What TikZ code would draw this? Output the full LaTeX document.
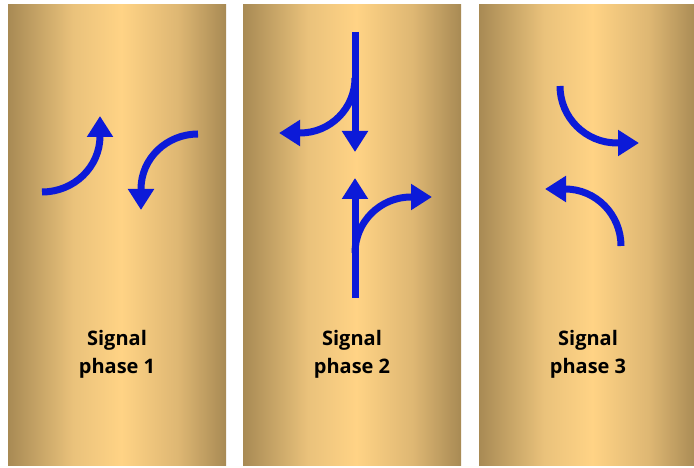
\documentclass[tikz,border=0pt]{standalone}
\usepackage{fontspec}
\usepackage{xcolor}
\usepackage{tikz}
\usetikzlibrary{arrows.meta,positioning}
\newfontfamily\phasefont{Open Sans}

\definecolor{goldedge}{RGB}{168,138,84}
\definecolor{goldmidleft}{RGB}{234,194,123}
\definecolor{goldlight}{RGB}{255,211,133}
\definecolor{goldmidright}{RGB}{222,183,115}
\definecolor{signalblue}{RGB}{12,26,216}

\pgfdeclarehorizontalshading{goldbar}{100bp}{color(0bp)=(goldedge); color(25bp)=(goldedge); color(40bp)=(goldmidleft); color(51bp)=(goldlight); color(64bp)=(goldmidright); color(75bp)=(goldedge); color(100bp)=(goldedge)}

\begin{document}
\begin{tikzpicture}[x=1pt, y=1pt,
  panel/.style={shading=goldbar, draw=none},
  turn/.style={draw=signalblue, line width=7pt, -{Triangle[length=21pt,width=25pt]}},
  phase/.style={font=\phasefont\bfseries\fontsize{20}{28}\selectfont, align=center, text=black}]
\useasboundingbox (0,0) rectangle (694,468);
\clip (0,0) rectangle (694,468);

% Panels
\shade[panel] (8,2) rectangle (226,463);
\shade[panel] (243,2) rectangle (461,463);
\shade[panel] (479,2) rectangle (697,463);

% Phase 1
\draw[turn] (42,276) arc[start angle=-90, end angle=0, x radius=58, y radius=56] -- (100,352);
\draw[turn] (198,334) arc[start angle=90, end angle=180, x radius=57, y radius=55] -- (141,258);
\node[phase] (label1) at (117,114) {Signal\\phase 1};

% Phase 2
\draw[turn] (355,436) -- (355,316);
\draw[turn] (355,390) arc[start angle=0, end angle=-90, radius=55] -- (279,335);
\draw[turn] (355,170) -- (355,290);
\draw[turn] (355,215) arc[start angle=180, end angle=90, radius=56] -- (432,271);
\node[phase] (label2) at (352,114) {Signal\\phase 2};

% Phase 3
\draw[turn] (560,382) arc[start angle=180, end angle=270, radius=57] -- (639,325);
\draw[turn] (621,222) arc[start angle=0, end angle=90, x radius=56, y radius=57] -- (545,279);
\node[phase] (label3) at (588,114) {Signal\\phase 3};

\end{tikzpicture}
\end{document}
